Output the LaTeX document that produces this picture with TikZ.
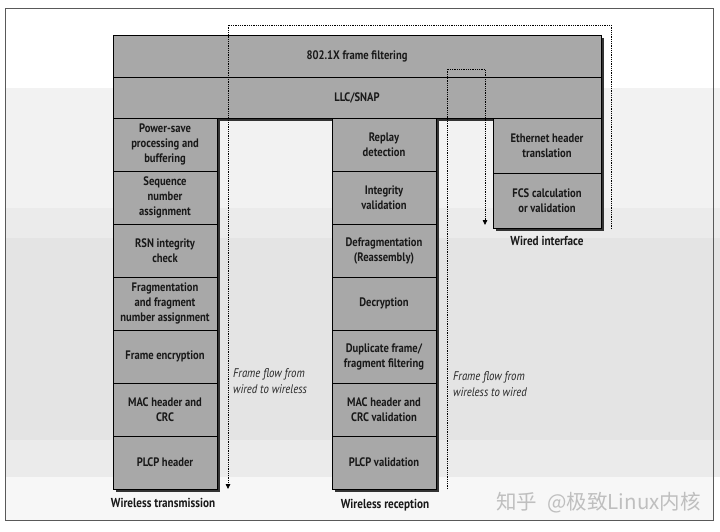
\documentclass[tikz,border=0pt]{standalone}
\usepackage{fontspec}
\setmainfont{PT Sans}[FakeStretch=0.86]
\newfontfamily\cjk{Noto Sans CJK SC}
\usetikzlibrary{arrows.meta}
\definecolor{cellgray}{HTML}{A8A8A8}
\definecolor{bandA}{HTML}{F2F2F2}
\definecolor{bandB}{HTML}{EBEBEB}
\definecolor{bandC}{HTML}{E4E4E4}
\definecolor{bandD}{HTML}{EBEBEB}
\definecolor{bandE}{HTML}{F7F7F7}
\begin{document}
\begin{tikzpicture}[x=1pt,y=-1pt,
  cell/.style={draw=black, line width=0.9pt, fill=cellgray, inner sep=1pt,
    align=center, text=black!90, font=\bfseries\fontsize{12.3}{15}\selectfont},
  lcell/.style={cell, minimum width=104pt, minimum height=53pt},
  rcell/.style={cell, minimum width=108pt, minimum height=55pt},
  shadow/.style={fill=black!80},
  caption/.style={font=\bfseries\fontsize{13}{15}\selectfont, text=black!90, inner sep=0pt},
  flowlabel/.style={font=\itshape\fontsize{12.5}{16}\selectfont, text=black!85, align=left, anchor=west, inner sep=0pt},
  flow/.style={line width=0.8pt, dash pattern=on 0.8pt off 1pt, -{Triangle[length=5pt,width=4.5pt]}}]
\useasboundingbox (0,0) rectangle (720,531);
% photographed background
\fill[white] (0,0) rectangle (720,531);
\fill[bandA] (5,88) rectangle (720,208);
\fill[bandB] (5,208) rectangle (720,238);
\fill[bandC] (5,238) rectangle (720,440);
\fill[bandD] (5,440) rectangle (720,477);
\fill[bandE] (5,477) rectangle (713,520);
\draw[black!65, line width=0.8pt] (5,8) rectangle (713,520);
% shadows
\fill[shadow] (115.5,37.5) rectangle (603.5,120.5);
\fill[shadow] (115.5,118) rectangle (219.5,491.5);
\fill[shadow] (334.5,118) rectangle (438.5,492);
\fill[shadow] (495.5,118) rectangle (603.5,230.5);
% top layers
\node[cell, minimum width=488pt, minimum height=42pt] (filt) at (357,56) {802.1X frame filtering};
\node[cell, minimum width=488pt, minimum height=41pt] (llc) at (357,97.5) {LLC/SNAP};
% wireless transmission
\node[lcell] (t1) at (165,144.5) {Power-save\\processing and\\buffering};
\node[lcell] (t2) at (165,197.5) {Sequence\\number\\assignment};
\node[lcell] (t3) at (165,250.5) {RSN integrity\\check};
\node[lcell] (t4) at (165,303.5) {Fragmentation\\and fragment\\number assignment};
\node[lcell] (t5) at (165,356.5) {Frame encryption};
\node[lcell] (t6) at (165,409.5) {MAC header and\\CRC};
\node[lcell] (t7) at (165,462.5) {PLCP header};
% wireless reception
\node[lcell] (r1) at (384,144.5) {Replay\\detection};
\node[lcell] (r2) at (384,197.5) {Integrity\\validation};
\node[lcell] (r3) at (384,250.5) {Defragmentation\\(Reassembly)};
\node[lcell] (r4) at (384,303.5) {Decryption};
\node[lcell] (r5) at (384,356.5) {Duplicate frame/\\fragment filtering};
\node[lcell] (r6) at (384,409.5) {MAC header and\\CRC validation};
\node[lcell] (r7) at (384,462.5) {PLCP validation};
% wired interface
\node[rcell] (w1) at (547,145.5) {Ethernet header\\translation};
\node[rcell] (w2) at (547,200.5) {FCS calculation\\or validation};
% captions
\node[caption] (ctx) at (163,503) {Wireless transmission};
\node[caption] (crx) at (385,505) {Wireless reception};
\node[caption] (cwi) at (547,241) {Wired interface};
\node[flowlabel] (ftx) at (233,381) {Frame flow from\\wired to wireless};
\node[flowlabel] (frx) at (453,384) {Frame flow from\\wireless to wired};
% flow lines
\coordinate (a0) at (611,229);
\coordinate (a1) at (611,25);
\coordinate (a2) at (228,25);
\coordinate (a3) at (228,489);
\draw[flow] (a0) -- (a1) -- (a2) -- (a3);
\coordinate (b0) at (447,489);
\coordinate (b1) at (447,69);
\coordinate (b2) at (485,69);
\coordinate (b3) at (485,225);
\draw[flow] (b0) -- (b1) -- (b2) -- (b3);
% watermark
\node[font=\cjk\fontsize{20.5}{22}\selectfont, text=black!25, anchor=west, inner sep=0pt] (wm) at (496,503) {知乎\enspace @极致Linux内核};
\end{tikzpicture}
\end{document}
